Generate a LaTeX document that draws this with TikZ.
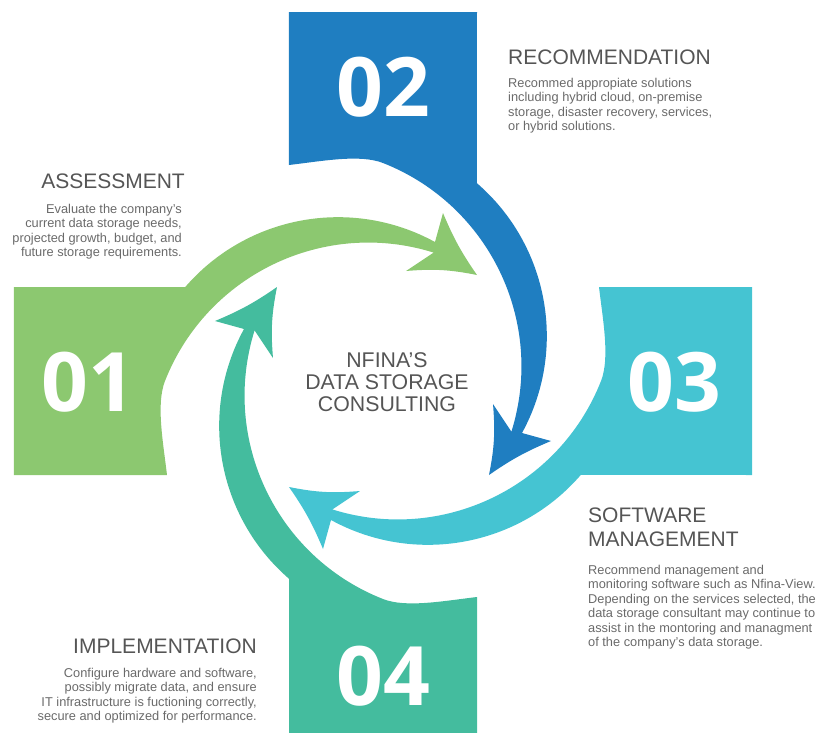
\documentclass[tikz,border=0pt]{standalone}
\usepackage{fontspec}
\setmainfont{Liberation Sans}
\newfontfamily\numfont{Open Sans}
\usepackage{tikz}

\definecolor{verde}{HTML}{8CC870}
\definecolor{azul}{HTML}{1F7EC1}
\definecolor{ciano}{HTML}{45C4D2}
\definecolor{turquesa}{HTML}{44BC9E}
\definecolor{cinza}{HTML}{555555}
\definecolor{cinzaclaro}{HTML}{6A6A6A}

\begin{document}
\begin{tikzpicture}[x=1pt, y=1pt,
    num/.style={font=\numfont\bfseries\fontsize{82}{82}\selectfont, text=white, inner sep=0},
    etapa/.style={font=\fontsize{21}{24}\selectfont, text=cinza, inner sep=0},
    desc/.style={font=\fontsize{12.8}{14.5}\selectfont, text=cinzaclaro, inner sep=0}]
    % origem no centro do ciclo
    \useasboundingbox (-383,-351) rectangle (436,381);

    % Bracos: retangulo + seta curva (rodados de 90 em 90 graus)
    \foreach \cor/\ang in {verde/0, azul/-90, ciano/-180, turquesa/-270}{
        \fill[\cor, rotate=\ang] (-369,-94) -- (-216,-94)
            .. controls (-220,-60) and (-227,-23) .. (-218,0)
            arc[start angle=158.5, end angle=72.6, radius=218.5]
            -- (23,110) to[bend left=8] (94,106) to[bend left=6] (60,168) -- (52,139)
            arc[start angle=61.3, end angle=139.2, radius=202]
            -- (-369,94) -- cycle;
    }

    % Numeros
    \node[num] (n01) at (-295,-1) {01};
    \node[num] (n02) at (0,294) {02};
    \node[num] (n03) at (291,-1) {03};
    \node[num] (n04) at (0,-295) {04};

    % Centro
    \node[font=\fontsize{21.3}{22}\selectfont, text=cinza, inner sep=0, anchor=base] (centro) at (4,14)
        {\begin{tabular}[t]{@{}c@{}}NFINA’S\\DATA STORAGE\\CONSULTING\end{tabular}};

    % 01 - Assessment
    \node[etapa, anchor=base east] (tAss) at (-198,193) {ASSESSMENT};
    \node[desc, anchor=base east] (dAss) at (-201,168)
        {\begin{tabular}[t]{@{}r@{}}Evaluate the company’s\\current data storage needs,\\projected growth, budget, and\\future storage requirements.\end{tabular}};

    % 02 - Recommendation
    \node[etapa, anchor=base west] (tRec) at (125,317) {RECOMMENDATION};
    \node[desc, anchor=base west] (dRec) at (125,294)
        {\begin{tabular}[t]{@{}l@{}}Recommed appropiate solutions\\including hybrid cloud, on-premise\\storage, disaster recovery, services,\\or hybrid solutions.\end{tabular}};

    % 03 - Software management
    \node[etapa, anchor=base west] (tSoft) at (205,-141)
        {\begin{tabular}[t]{@{}l@{}}SOFTWARE\\MANAGEMENT\end{tabular}};
    \node[desc, anchor=base west] (dSoft) at (205,-193)
        {\begin{tabular}[t]{@{}l@{}}Recommend management and\\monitoring software such as Nfina-View.\\Depending on the services selected, the\\data storage consultant may continue to\\assist in the montoring and managment\\of the company’s data storage.\end{tabular}};

    % 04 - Implementation
    \node[etapa, anchor=base east] (tImp) at (-126,-272) {IMPLEMENTATION};
    \node[desc, anchor=base east] (dImp) at (-126,-296)
        {\begin{tabular}[t]{@{}r@{}}Configure hardware and software,\\possibly migrate data, and ensure\\IT infrastructure is fuctioning correctly,\\secure and optimized for performance.\end{tabular}};
\end{tikzpicture}
\end{document}
